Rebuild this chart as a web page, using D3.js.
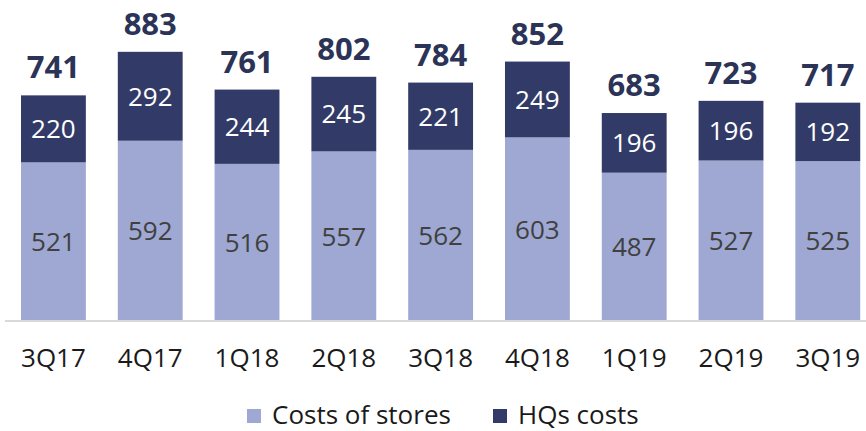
<!DOCTYPE html>
<html><head><meta charset="utf-8">
<script src="https://cdn.jsdelivr.net/npm/d3@7"></script>
<style>body{margin:0;background:#fff}svg{display:block}</style>
</head><body>
<svg id="c" width="866" height="431"></svg>
<script>
const categories = ["3Q17","4Q17","1Q18","2Q18","3Q18","4Q18","1Q19","2Q19","3Q19"];
const storeCosts = [521,592,516,557,562,603,487,527,525];
const hqCosts = [220,292,244,245,221,249,196,196,192];
const totals = [741,883,761,802,784,852,683,723,717];
const seriesNames = ["Costs of stores","HQs costs"];

const colors = {stores:"#9ea8d2", hq:"#323b67", total:"#2b3357"};
const font = "'Open Sans', 'Noto Sans', sans-serif";
const svg = d3.select("#c");

const x = d3.scaleBand().domain(categories).range([5.03, 876.2]).paddingInner(0.33).paddingOuter(0.165);
const y = d3.scaleLinear().domain([0, 1000]).range([321, 16.5]);

const data = categories.map((c,i)=>({cat:c, s:storeCosts[i], h:hqCosts[i], t:totals[i]}));

// bars
svg.selectAll("rect.s").data(data).join("rect")
  .attr("x", d=>x(d.cat)).attr("width", x.bandwidth())
  .attr("y", d=>y(d.s)).attr("height", d=>y(0)-y(d.s))
  .attr("fill", colors.stores);
svg.selectAll("rect.h").data(data).join("rect")
  .attr("x", d=>x(d.cat)).attr("width", x.bandwidth())
  .attr("y", d=>y(d.s+d.h)).attr("height", d=>y(d.s)-y(d.s+d.h))
  .attr("fill", colors.hq);

// axis
const xAxis = d3.axisBottom(x).tickSize(0).tickPadding(0);
const ax = svg.append("g").attr("transform", `translate(0,${y(0)})`).call(xAxis);
ax.select(".domain").remove();
ax.append("line").attr("x1",5).attr("x2",866).attr("y1",0).attr("y2",0)
  .attr("stroke","#d9d9d9").attr("stroke-width",2);
ax.selectAll(".tick text").attr("font-family", font).attr("font-size", 26)
  .attr("fill","#1a1a1a").attr("dy", null).attr("y", 46);

// inner labels
svg.selectAll("text.sl").data(data).join("text")
  .attr("x", d=>x(d.cat)+x.bandwidth()/2).attr("y", d=>(y(0)+y(d.s))/2)
  .attr("dy","0.36em").attr("text-anchor","middle")
  .attr("font-family", font).attr("font-size", 26).attr("fill","#404040")
  .text(d=>d.s);
svg.selectAll("text.hl").data(data).join("text")
  .attr("x", d=>x(d.cat)+x.bandwidth()/2).attr("y", d=>(y(d.s)+y(d.s+d.h))/2)
  .attr("dy","0.36em").attr("text-anchor","middle")
  .attr("font-family", font).attr("font-size", 26).attr("fill","#ffffff")
  .text(d=>d.h);
// totals
svg.selectAll("text.tl").data(data).join("text")
  .attr("x", d=>x(d.cat)+x.bandwidth()/2).attr("y", d=>y(d.s+d.h)-17)
  .attr("text-anchor","middle")
  .attr("font-family", font).attr("font-size", 31).attr("font-weight","bold").attr("fill",colors.total)
  .text(d=>d.t);

// legend
const legendItems = [{name:seriesNames[0], c:colors.stores, x:247},{name:seriesNames[1], c:colors.hq, x:493}];
const lg = svg.append("g").selectAll("g").data(legendItems).join("g")
  .attr("transform", d=>`translate(${d.x},409)`);
lg.append("rect").attr("width",14).attr("height",14).attr("fill", d=>d.c);
lg.append("text").attr("x",25).attr("y",15).attr("font-family", font).attr("font-size",26)
  .attr("fill","#1a1a1a").text(d=>d.name);
</script>
</body></html>
